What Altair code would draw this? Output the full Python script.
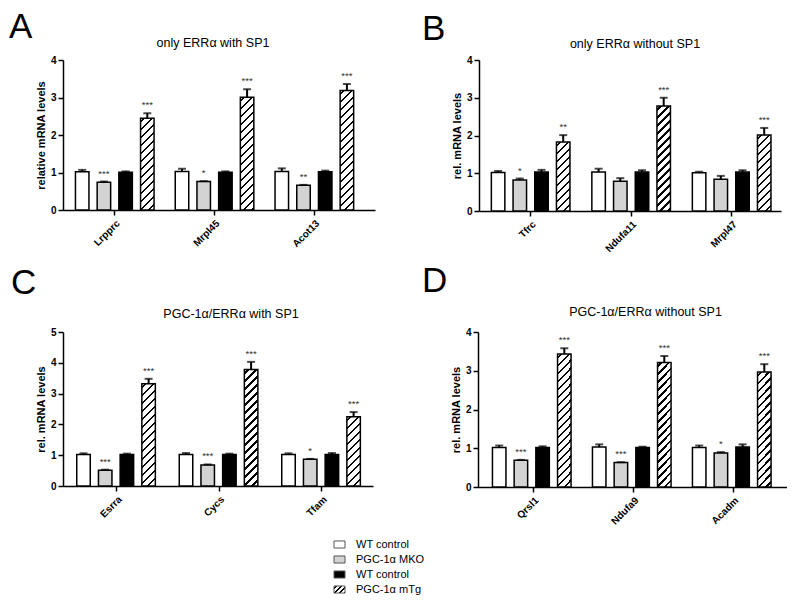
import math
import altair as alt

FONT = "Liberation Sans"

# ---------------- data ----------------
GROUP_KEYS = ["wt1", "mko", "wt2", "mtg"]
LEGEND_LABELS = ["WT control", "PGC-1α MKO", "WT control", "PGC-1α mTg"]

A_genes = ["Lrpprc", "Mrpl45", "Acot13"]
A_mean = [[1.02, 0.74, 1.01, 2.45], [1.03, 0.76, 1.01, 3.01], [1.03, 0.66, 1.02, 3.19]]
A_cap = [[1.07, 0.76, 1.03, 2.58], [1.10, 0.77, 1.03, 3.22], [1.11, 0.67, 1.05, 3.36]]
A_star = [["", "***", "", "***"], ["", "*", "", "***"], ["", "**", "", "***"]]

B_genes = ["Tfrc", "Ndufa11", "Mrpl47"]
B_mean = [[1.02, 0.82, 1.03, 1.83], [1.03, 0.79, 1.03, 2.78], [1.01, 0.84, 1.03, 2.01]]
B_cap = [[1.06, 0.86, 1.09, 2.01], [1.12, 0.87, 1.08, 3.00], [1.04, 0.93, 1.08, 2.20]]
B_star = [["", "*", "", "**"], ["", "", "", "***"], ["", "", "", "***"]]

C_genes = ["Esrra", "Cycs", "Tfam"]
C_mean = [[1.02, 0.51, 1.02, 3.32], [1.02, 0.68, 1.02, 3.78], [1.02, 0.87, 1.02, 2.25]]
C_cap = [[1.06, 0.53, 1.05, 3.48], [1.07, 0.70, 1.05, 4.03], [1.06, 0.88, 1.07, 2.40]]
C_star = [["", "***", "", "***"], ["", "***", "", "***"], ["", "*", "", "***"]]

D_genes = ["Qrsl1", "Ndufa9", "Acadm"]
D_mean = [[1.02, 0.69, 1.02, 3.43], [1.03, 0.63, 1.02, 3.21], [1.02, 0.88, 1.03, 2.97]]
D_cap = [[1.07, 0.70, 1.05, 3.58], [1.10, 0.64, 1.04, 3.38], [1.07, 0.90, 1.10, 3.17]]
D_star = [["", "***", "", "***"], ["", "***", "", "***"], ["", "*", "", "***"]]

# ---------------- styles ----------------
SOLID_FILLS = ["#ffffff", "#d3d3d3", "#000000"]
NO_FRAME = alt.ViewBackground(stroke="transparent", strokeWidth=0)


def hatch(w, h, period=8.0, frac=0.3):
    """Diagonal '/' hatching as a linear gradient in bounding-box units."""
    k = (w + h) / (w * w + h * h)
    n = (w + h) / period
    stops = [{"offset": 0, "color": "#ffffff"}]
    i = 0
    while True:
        s = (i + 0.5 - frac / 2) / n
        e = (i + 0.5 + frac / 2) / n
        if s >= 1:
            break
        e = min(e, 1.0)
        stops += [{"offset": s, "color": "#ffffff"}, {"offset": s, "color": "#000000"},
                  {"offset": e, "color": "#000000"}, {"offset": e, "color": "#ffffff"}]
        i += 1
    stops.append({"offset": 1, "color": "#ffffff"})
    return {"gradient": "linear", "x1": 0, "y1": 0, "x2": w * k, "y2": h * k, "stops": stops}


def panel(letter, title, ytitle, genes, means, caps, stars, cfg):
    W, H, ymax = cfg["w"], cfg["h"], cfg["ymax"]
    gstep, bstep, bw, c0 = cfg["gstep"], cfg["bstep"], cfg["bw"], cfg["c0"]
    band = 3 * bstep + bw
    pi = 1 - band / gstep
    po = (W / gstep - 3 + pi) / 2
    leftover = W - (2 * gstep + band)
    al = (c0 - band / 2) / leftover
    pio = 1 - bw / bstep
    ppu = H / ymax

    recs = []
    for gi, g in enumerate(genes):
        for k in range(4):
            m = means[gi][k]
            fv = SOLID_FILLS[k] if k < 3 else hatch(bw, m * ppu)
            recs.append({"gene": g, "grp": GROUP_KEYS[k], "mean": m,
                         "cap": caps[gi][k], "star": stars[gi][k], "fillv": fv})
    data = alt.Data(values=recs)

    x = alt.X("gene:N", sort=genes, title=None,
              scale=alt.Scale(paddingInner=pi, paddingOuter=po, align=al),
              axis=alt.Axis(labelAngle=-45, labelAlign="right", labelBaseline="top",
                            labelFontWeight="bold", labelFontSize=10, labelFont=FONT,
                            labelColor="black", labelPadding=3, tickSize=5,
                            tickColor="black", tickWidth=1.5, domainColor="black",
                            domainWidth=1.5))
    xo = alt.XOffset("grp:N", sort=GROUP_KEYS,
                     scale=alt.Scale(paddingInner=pio, paddingOuter=0))
    yaxis = alt.Axis(values=list(range(0, ymax + 1)), grid=False, title=ytitle,
                     titleFont=FONT, titleFontSize=11, titleFontWeight="bold",
                     titleColor="black", titlePadding=4,
                     labelFont=FONT, labelFontSize=10, labelFontWeight="bold",
                     labelColor="black", labelPadding=2, tickSize=5, tickColor="black",
                     tickWidth=1.5, domainColor="black", domainWidth=1.5)
    yscale = alt.Scale(domain=[0, ymax], nice=False)

    bars = alt.Chart(data).mark_bar(stroke="black", strokeWidth=1.5).encode(
        x=x, xOffset=xo,
        y=alt.Y("mean:Q", scale=yscale, axis=yaxis, stack=None),
        fill=alt.Fill("fillv:N", scale=None),
    )
    err = alt.Chart(data).mark_rule(color="black", strokeWidth=2).encode(
        x=x, xOffset=xo,
        y=alt.Y("mean:Q", scale=yscale, axis=yaxis, stack=None),
        y2="cap:Q",
    )
    capm = alt.Chart(data).mark_tick(color="black", size=8, thickness=2,
                                     orient="horizontal").encode(
        x=x, xOffset=xo,
        y=alt.Y("cap:Q", scale=yscale, axis=yaxis),
    )
    star = alt.Chart(data).mark_text(baseline="bottom", dy=-3, fontSize=9.5,
                                     font=FONT, color="#333333").encode(
        x=x, xOffset=xo,
        y=alt.Y("cap:Q", scale=yscale, axis=yaxis),
        text="star:N",
    )
    lab = alt.Chart(alt.Data(values=[{"t": letter}])).mark_text(
        fontSize=35, font=FONT, align="left", baseline="alphabetic", color="black"
    ).encode(x=alt.value(cfg["lx"]), y=alt.value(cfg["ly"]), text="t:N")
    ttl = alt.Chart(alt.Data(values=[{"t": title}])).mark_text(
        fontSize=12.5, font=FONT, align="center", baseline="alphabetic", color="black"
    ).encode(x=alt.value(W / 2 + cfg["tdx"]), y=alt.value(-cfg["toff"]), text="t:N")

    return alt.layer(bars, err, capm, star, lab, ttl).properties(
        width=W, height=H, view=NO_FRAME)


cfgA = dict(w=312, h=150, ymax=4, gstep=99.8, bstep=21.7, bw=13.5, c0=51.75,
            lx=-54, ly=-22, toff=13, tdx=-6)
cfgB = dict(w=302, h=151, ymax=4, gstep=100.5, bstep=21.8, bw=13.5, c0=51.8,
            lx=-57, ly=-20, toff=12, tdx=5)
cfgC = dict(w=310, h=154, ymax=5, gstep=102.5, bstep=22.2, bw=13.5, c0=53.8,
            lx=-52, ly=-38, toff=14, tdx=13)
cfgD = dict(w=309, h=155, ymax=4, gstep=100.0, bstep=22.7, bw=14.0, c0=55.5,
            lx=-56, ly=-40, toff=16, tdx=13)

pA = panel("A", "only ERRα with SP1", "relative mRNA levels", A_genes, A_mean, A_cap, A_star, cfgA)
pB = panel("B", "only ERRα without SP1", "rel. mRNA levels", B_genes, B_mean, B_cap, B_star, cfgB)
pC = panel("C", "PGC-1α/ERRα with SP1", "rel. mRNA levels", C_genes, C_mean, C_cap, C_star, cfgC)
pD = panel("D", "PGC-1α/ERRα without SP1", "rel. mRNA levels", D_genes, D_mean, D_cap, D_star, cfgD)

# ---------------- legend ----------------
LX0 = 271
leg_recs = []
for i, lbl in enumerate(LEGEND_LABELS):
    fv = SOLID_FILLS[i] if i < 3 else hatch(11, 7, period=5.0, frac=0.35)
    leg_recs.append({"k": i, "label": lbl, "fillv": fv})
leg_data = alt.Data(values=leg_recs)
leg_y = alt.Y("k:O", axis=None, scale=alt.Scale(paddingInner=0.53, paddingOuter=0.265))
leg_rect = alt.Chart(leg_data).mark_rect(stroke="#555555", strokeWidth=1).encode(
    y=leg_y, x=alt.value(LX0), x2=alt.value(LX0 + 11),
    fill=alt.Fill("fillv:N", scale=None),
)
leg_text = alt.Chart(leg_data).mark_text(align="left", baseline="middle", fontSize=11,
                                         font=FONT, color="black").encode(
    y=leg_y, x=alt.value(LX0 + 22), text="label:N",
)
legend = alt.layer(leg_rect, leg_text).properties(width=450, height=60, view=NO_FRAME)

chart = alt.vconcat(
    alt.hconcat(pA, pB, spacing=47),
    alt.hconcat(pC, pD, spacing=49),
    legend,
    spacing=10,
).properties(
    padding={"left": 1, "top": 2, "right": 0, "bottom": 0}
).configure_view(stroke="transparent", strokeWidth=0).configure(font=FONT)

chart.save("out.html", embed_options={"renderer": "svg", "actions": False})
